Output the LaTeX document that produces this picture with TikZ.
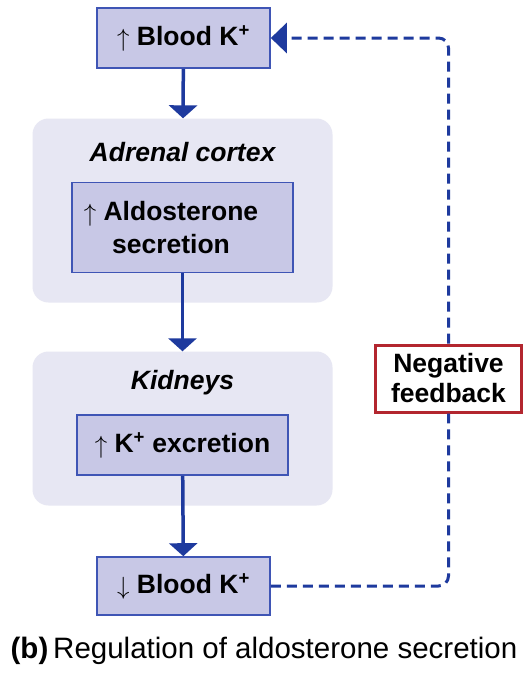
\documentclass[tikz,border=0pt]{standalone}
\usepackage{fontspec}
\setmainfont{Liberation Sans}
\usetikzlibrary{arrows.meta}
\definecolor{boxfill}{HTML}{C8C8E6}
\definecolor{boxline}{HTML}{3F55B5}
\definecolor{panelfill}{HTML}{E7E7F3}
\definecolor{flow}{HTML}{1E3A9E}
\definecolor{fbred}{HTML}{B3262F}
\newcommand{\upar}{\raisebox{-1pt}{$\uparrow$}}
\newcommand{\downar}{\raisebox{-1pt}{$\downarrow$}}
\tikzset{
  stepbox/.style={draw=boxline,fill=boxfill,line width=1.6pt,shape=rectangle,align=center},
  panel/.style={fill=panelfill,rounded corners=16pt,shape=rectangle},
  flowarrow/.style={draw=flow,line width=3.5pt,-{Triangle[length=13pt,width=28pt]}},
  fbline/.style={draw=flow,line width=3pt,dash pattern=on 10pt off 6pt}
}
\begin{document}
\begin{tikzpicture}[x=1pt,y=-1pt,font=\bfseries\fontsize{26.5}{33}\selectfont]
  \useasboundingbox[fill=white] (0,0) rectangle (528,678);
  % panels
  \node[panel,minimum width=300pt,minimum height=184pt] (cortex) at (182.5,210.5) {};
  \node[panel,minimum width=300pt,minimum height=154pt] (kidneys) at (182.5,428.5) {};
  \node (cortexlabel) at (182.5,152) {\itshape Adrenal cortex};
  \node (kidneylabel) at (182.5,383) {\itshape Kidneys};
  % steps
  \node[stepbox,minimum width=173pt,minimum height=60pt] (up) at (183.5,38) {\upar\ Blood K\textsuperscript{+}};
  \node[stepbox,minimum width=221pt,minimum height=90pt] (aldo) at (182.5,227.5) {};
  \node[align=center] (aldotext) at (171,227.5) {\upar\ Aldosterone\\secretion};
  \node[stepbox,minimum width=211pt,minimum height=60pt] (excr) at (182.5,445) {\upar\ K\textsuperscript{+} excretion};
  \node[stepbox,minimum width=173pt,minimum height=58pt] (down) at (183.5,586) {\downar\ Blood K\textsuperscript{+}};
  \node[draw=fbred,fill=white,line width=3pt,minimum width=146pt,minimum height=67pt,align=center,font=\bfseries\fontsize{26.5}{30}\selectfont] (fb) at (448.5,378.5) {Negative\\feedback};
  % arrows
  \draw[flowarrow] (up) -- (cortex);
  \draw[flowarrow] (aldo) -- (kidneys);
  \draw[flowarrow] (excr) -- (down);
  \draw[fbline,rounded corners=10pt] (down.east) -| (fb.south);
  \draw[fbline,rounded corners=10pt,-{Triangle[length=16pt,width=30pt]}] (fb.north) |- (up.east);
  % caption
  \node (caption) at (264,651) {\fontsize{29.5}{32}\selectfont(b)\,\mdseries Regulation of aldosterone secretion};
\end{tikzpicture}
\end{document}
